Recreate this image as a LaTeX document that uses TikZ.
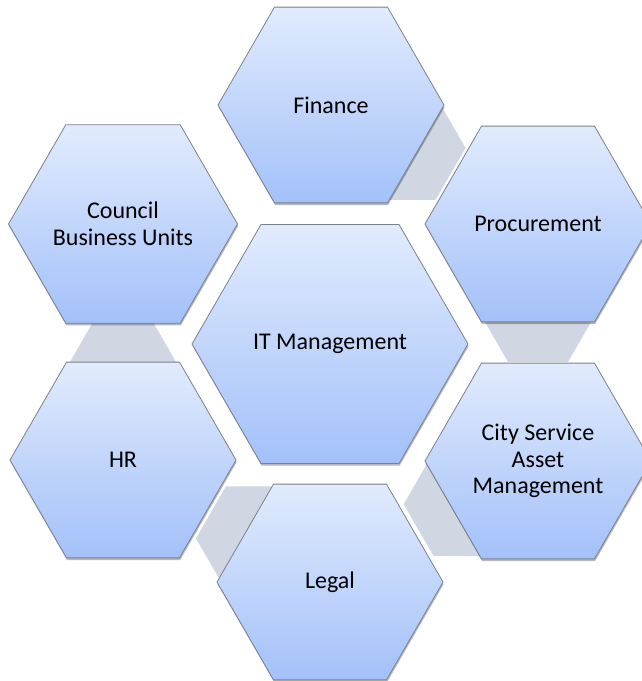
\documentclass[tikz,border=0pt]{standalone}
\usepackage{fontspec}
\setmainfont{Carlito}
\usetikzlibrary{shapes.geometric,calc,shadows}
\definecolor{hextop}{HTML}{E1EBFD}
\definecolor{hexbot}{HTML}{A3C1F9}
\definecolor{hexline}{HTML}{7A818C}
\definecolor{linkgray}{HTML}{D0D6E2}
\begin{document}
\begin{tikzpicture}[x=1pt,y=-1pt,
  hexbox/.style={regular polygon, regular polygon sides=6, minimum size=226pt,
    inner sep=0pt, outer sep=0pt, draw=hexline, line width=0.8pt,
    top color=hextop, bottom color=hexbot, align=center,
    font=\fontsize{24}{26.5}\selectfont, text=black,
    drop shadow={shadow xshift=0.6pt, shadow yshift=-2.2pt, opacity=0.28, fill=black}},
  bighex/.style={hexbox, minimum size=276pt},
  linkhex/.style={regular polygon, regular polygon sides=6, minimum size=120pt,
    inner sep=0pt, outer sep=0pt, fill=linkgray, draw=none}]
\useasboundingbox (0,0) rectangle (641,681);
% centres
\coordinate (cF) at (331,105);
\coordinate (cP) at (538,224);
\coordinate (cC) at (538,461);
\coordinate (cL) at (330,582);
\coordinate (cH) at (123,460);
\coordinate (cB) at (123,224);
% grey link hexagons between neighbours
\node[linkhex] (lFP) at ($(cF)!86pt!(cP)$) {};
\node[linkhex] (lPC) at ($(cP)!86pt!(cC)$) {};
\node[linkhex] (lCL) at ($(cC)!86pt!(cL)$) {};
\node[linkhex] (lLH) at ($(cL)!86pt!(cH)$) {};
\node[linkhex] (lHB) at ($(cH)!86pt!(cB)$) {};
% hexagons
\node[bighex] (it) at (330,344) {IT Management};
\node[hexbox] (fin) at (cF) {Finance};
\node[hexbox] (proc) at (cP) {Procurement};
\node[hexbox] (city) at (cC) {City Service\\Asset\\Management};
\node[hexbox] (legal) at (cL) {Legal};
\node[hexbox] (hr) at (cH) {HR};
\node[hexbox] (council) at (cB) {Council\\Business Units};
\end{tikzpicture}
\end{document}
